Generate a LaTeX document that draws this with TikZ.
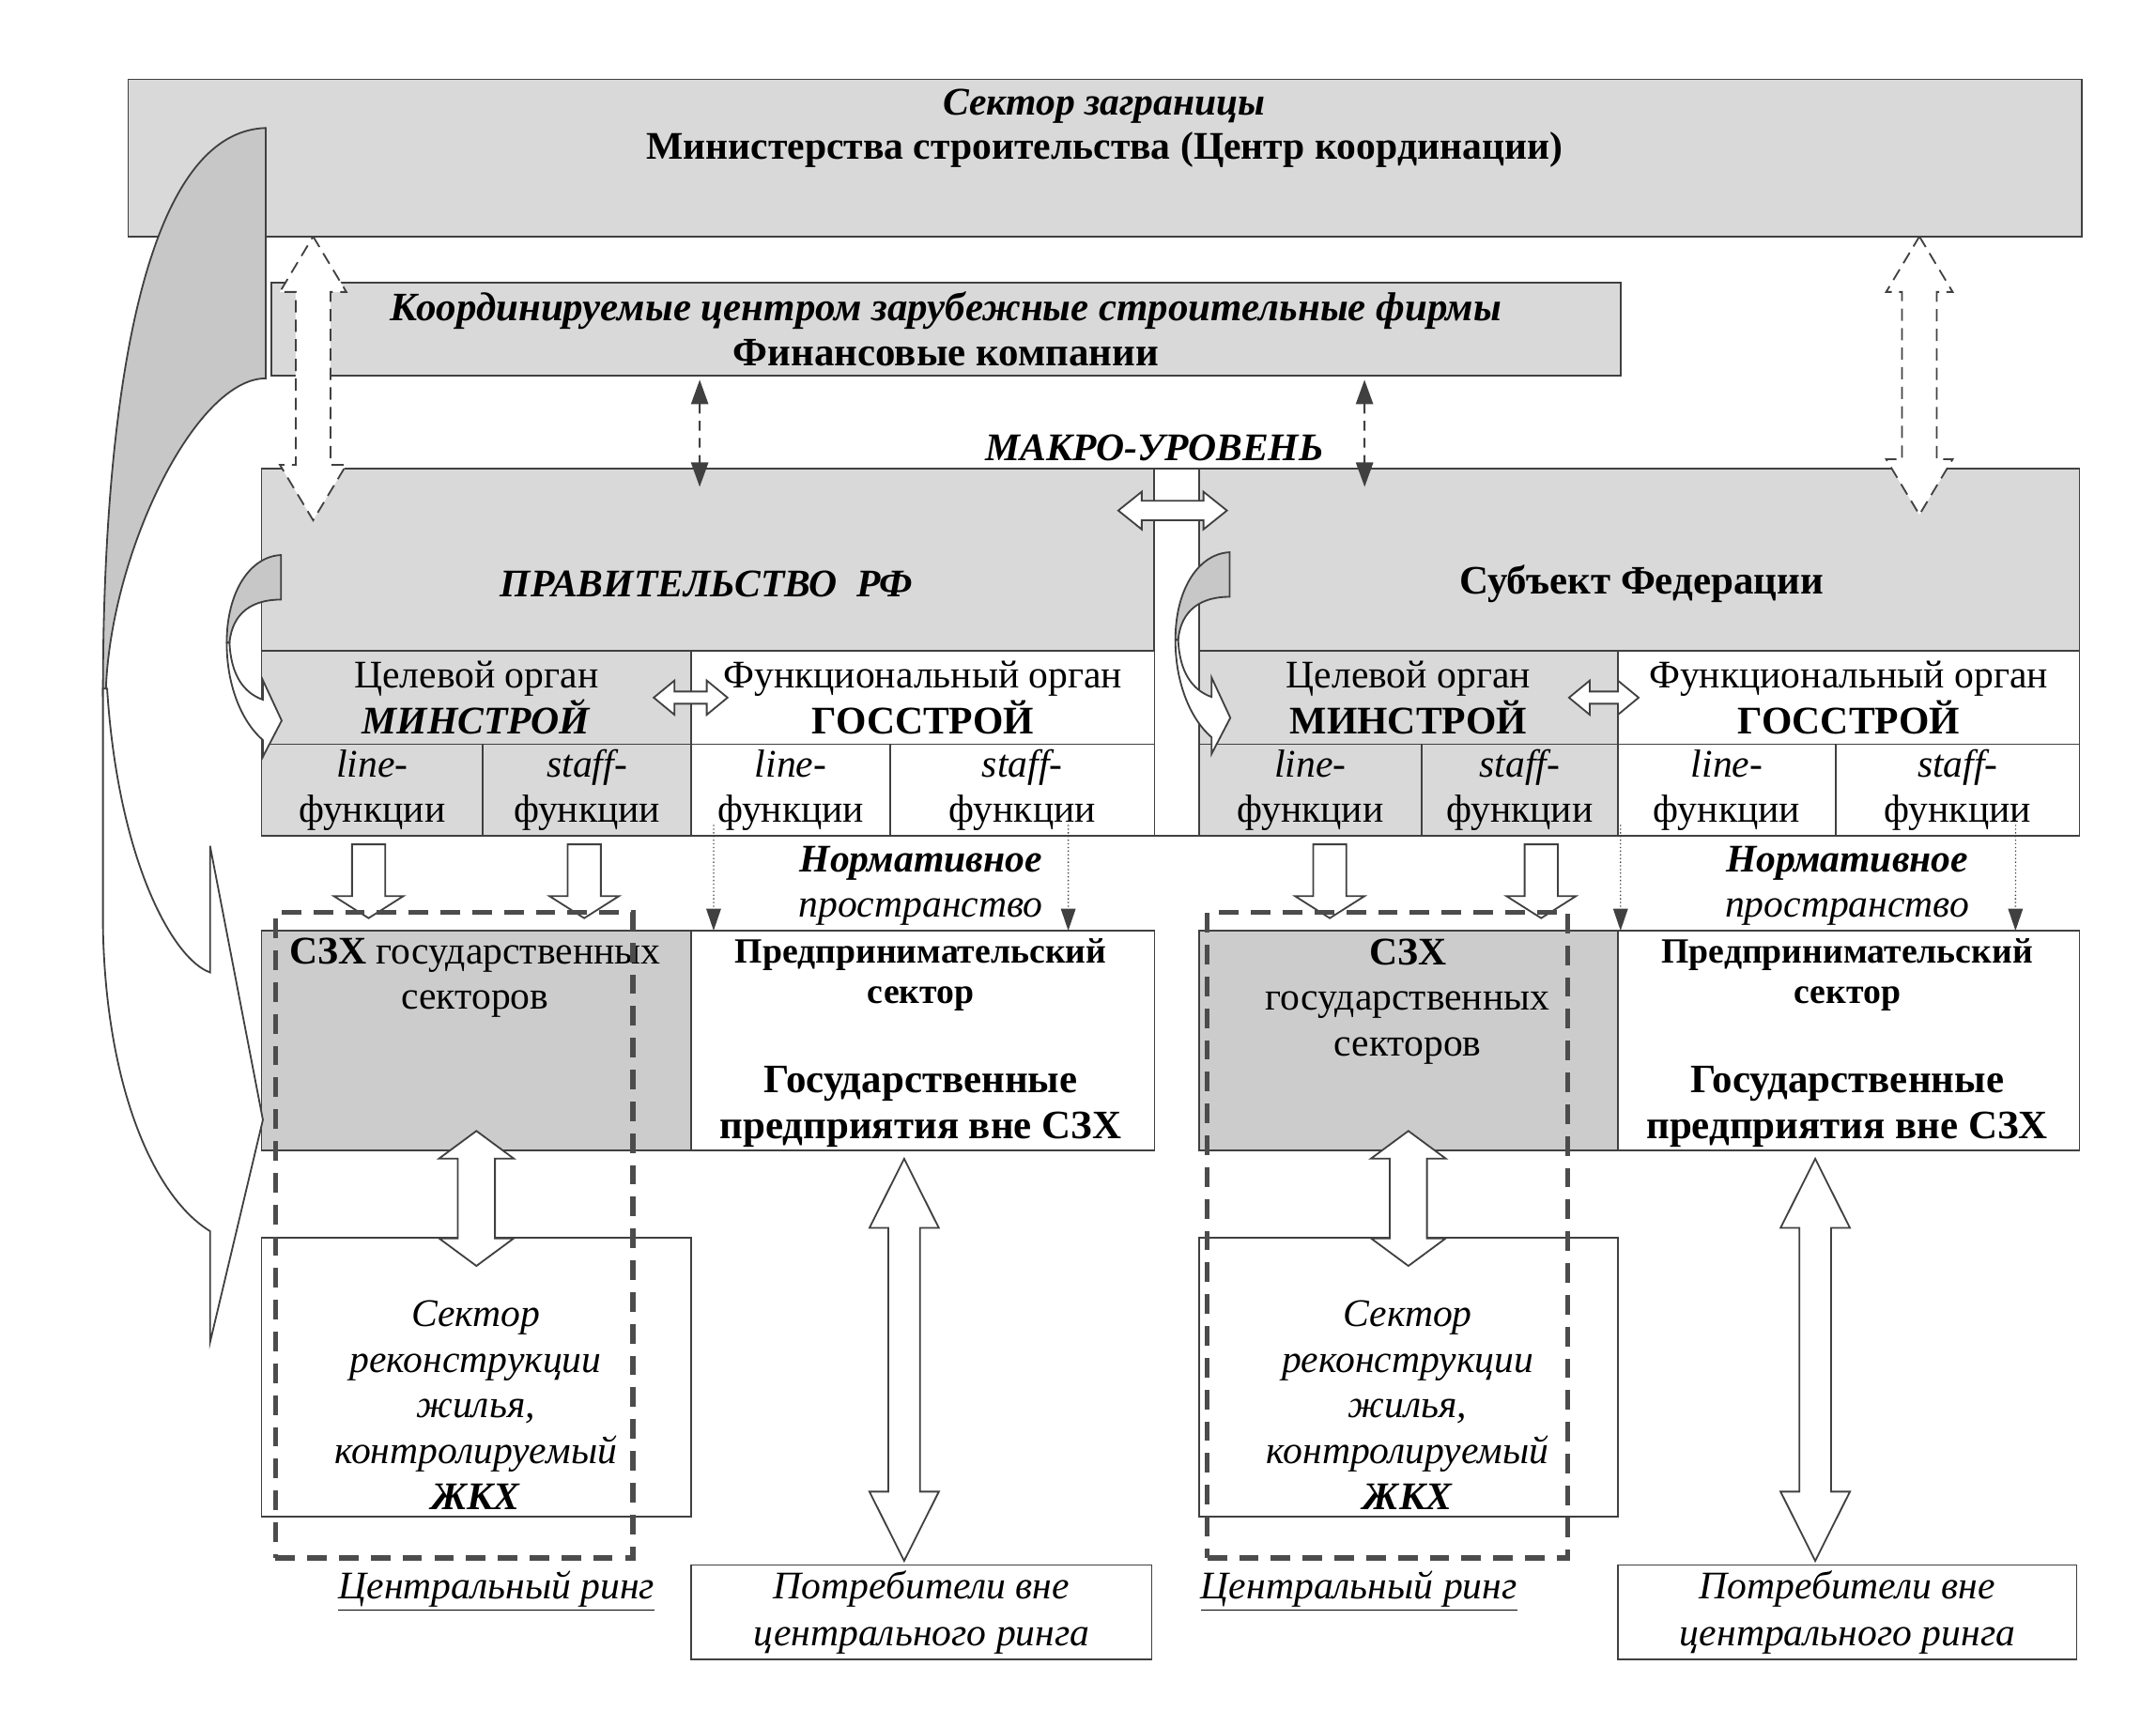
\documentclass[tikz,border=0pt]{standalone}
\usepackage{fontspec}
\setmainfont{Liberation Serif}
\usetikzlibrary{calc,arrows.meta}

\definecolor{boxgray}{gray}{0.85}
\definecolor{szxgray}{gray}{0.8}
\definecolor{arrgray}{gray}{0.78}
\definecolor{linegray}{gray}{0.25}
\definecolor{ringgray}{gray}{0.3}

\begin{document}
\begin{tikzpicture}[x=0.02cm,y=-0.02cm,
  box/.style={draw=linegray,line width=0.7pt,inner sep=0pt,outer sep=0pt,align=center,font=\fontsize{16}{18.5}\selectfont},
  graybox/.style={box,fill=boxgray},
  whitebox/.style={box,fill=white},
  txt/.style={inner sep=0pt,align=center,font=\fontsize{16}{18.5}\selectfont},
  ring/.style={draw=ringgray,line width=2pt,dash pattern=on 8pt off 5pt,inner sep=0pt},
  hollow/.style={draw=linegray,line width=0.7pt,fill=white},
  dhollow/.style={hollow,dash pattern=on 5pt off 3pt},
  thindash/.style={draw=linegray,line width=0.8pt,dash pattern=on 4pt off 3pt,
    {Triangle[length=10pt,width=7pt]}-{Triangle[length=10pt,width=7pt]}},
  dotarrow/.style={draw=linegray,line width=0.5pt,densely dotted,-{Triangle[length=9pt,width=6pt]}},
  vdbl/.style n args={3}{to path={let \p1=(\tikztostart),\p2=(\tikztotarget) in
    (\x1,\y1) -- (\x1+#2,\y1-#3) -- (\x1+#1,\y1-#3) -- (\x1+#1,\y2+#3) -- (\x1+#2,\y2+#3) -- (\x1,\y2)
    -- (\x1-#2,\y2+#3) -- (\x1-#1,\y2+#3) -- (\x1-#1,\y1-#3) -- (\x1-#2,\y1-#3) -- cycle}},
  vsgl/.style n args={3}{to path={let \p1=(\tikztostart),\p2=(\tikztotarget) in
    (\x1-#1,\y1) -- (\x1+#1,\y1) -- (\x1+#1,\y2+#3) -- (\x1+#2,\y2+#3) -- (\x1,\y2)
    -- (\x1-#2,\y2+#3) -- (\x1-#1,\y2+#3) -- cycle}},
  hdbl/.style n args={3}{to path={let \p1=(\tikztostart),\p2=(\tikztotarget) in
    (\x1,\y1) -- (\x1+#3,\y1+#2) -- (\x1+#3,\y1+#1) -- (\x2-#3,\y1+#1) -- (\x2-#3,\y1+#2) -- (\x2,\y1)
    -- (\x2-#3,\y1-#2) -- (\x2-#3,\y1-#1) -- (\x1+#3,\y1-#1) -- (\x1+#3,\y1-#2) -- cycle}}]

  \useasboundingbox (0,0) rectangle (1550,1241);

  % macro level
  \node[graybox,minimum width=28.1cm,minimum height=2.26cm] (abroad) at (794.5,113.5) {};
  \node[txt,font=\fontsize{16}{18}\selectfont\bfseries] (abroadtxt) at (794,92)
    {\textit{Сектор заграницы}\\Министерства строительства (Центр координации)};
  \node[graybox,minimum width=19.4cm,minimum height=1.34cm,font=\fontsize{16.5}{18.7}\selectfont\bfseries] (firms) at (680,236.5)
    {\textit{Координируемые центром зарубежные строительные фирмы}\\Финансовые компании};
  \node[txt,font=\fontsize{16}{18}\selectfont\bfseries\itshape] (macro) at (830,322) {МАКРО-УРОВЕНЬ};

  % government
  \node[graybox,minimum width=12.84cm,minimum height=2.62cm] (govt) at (509,402.5) {};
  \node[graybox,minimum width=6.18cm,minimum height=1.34cm] (gt) at (342.5,501.5) {Целевой орган\\\textbf{\textit{МИНСТРОЙ}}};
  \node[whitebox,minimum width=6.66cm,minimum height=1.34cm] (gf) at (663.5,501.5) {Функциональный орган\\\textbf{ГОССТРОЙ}};
  \node[graybox,minimum width=3.18cm,minimum height=1.32cm] (gl1) at (267.5,568) {\textit{line-}\\функции};
  \node[graybox,minimum width=3cm,minimum height=1.32cm] (gs1) at (422,568) {\textit{staff-}\\функции};
  \node[whitebox,minimum width=2.86cm,minimum height=1.32cm] (gl2) at (568.5,568) {\textit{line-}\\функции};
  \node[whitebox,minimum width=3.8cm,minimum height=1.32cm] (gs2) at (735,568) {\textit{staff-}\\функции};
  \node[txt,font=\fontsize{16}{18}\selectfont\bfseries\itshape] (govtname) at (508,420) {ПРАВИТЕЛЬСТВО~~РФ};

  % federation subject
  \node[graybox,minimum width=12.66cm,minimum height=2.62cm] (subj) at (1178.5,402.5) {};
  \node[graybox,minimum width=6.02cm,minimum height=1.34cm] (st) at (1012.5,501.5) {Целевой орган\\\textbf{МИНСТРОЙ}};
  \node[whitebox,minimum width=6.64cm,minimum height=1.34cm] (sf) at (1329,501.5) {Функциональный орган\\\textbf{ГОССТРОЙ}};
  \node[graybox,minimum width=3.2cm,minimum height=1.32cm] (sl1) at (942,568) {\textit{line-}\\функции};
  \node[graybox,minimum width=2.82cm,minimum height=1.32cm] (ss1) at (1092.5,568) {\textit{staff-}\\функции};
  \node[whitebox,minimum width=3.14cm,minimum height=1.32cm] (sl2) at (1241.5,568) {\textit{line-}\\функции};
  \node[whitebox,minimum width=3.5cm,minimum height=1.32cm] (ss2) at (1407.5,568) {\textit{staff-}\\функции};
  \node[txt,font=\fontsize{16.5}{18}\selectfont\bfseries] (subjname) at (1180,420) {Субъект Федерации};
  \node[whitebox,minimum width=0.64cm,minimum height=5.28cm] (gap) at (846,469) {};

  % sectors
  \node[box,fill=szxgray,minimum width=6.18cm,minimum height=3.16cm] (lszx) at (342.5,748) {};
  \node[whitebox,minimum width=6.66cm,minimum height=3.16cm] (lent) at (663.5,748) {};
  \node[box,fill=szxgray,minimum width=6.02cm,minimum height=3.16cm] (rszx) at (1012.5,748) {};
  \node[whitebox,minimum width=6.64cm,minimum height=3.16cm] (rent) at (1329,748) {};
  \node[txt] (lszxtxt) at (341.5,703) {\textbf{СЗХ} государственных\\секторов};
  \node[txt] (rszxtxt) at (1012,720) {\textbf{СЗХ}\\государственных\\секторов};
  \foreach \n/\x in {l/662,r/1328} {
    \node[txt,font=\fontsize{14.5}{16.5}\selectfont\bfseries] (\n enttop) at (\x,701) {Предпринимательский\\сектор};
    \node[txt,font=\fontsize{16.5}{18.7}\selectfont\bfseries] (\n entbot) at (\x,795.5) {Государственные\\предприятия вне СЗХ};
    \node[txt] (\n norm) at (\x,637) {\textbf{\textit{Нормативное}}\\\textit{пространство}};
  }

  \node[whitebox,minimum width=6.18cm,minimum height=4cm] (lrec) at (342.5,990) {};
  \node[whitebox,minimum width=6.02cm,minimum height=4cm] (rrec) at (1012.5,990) {};
  \node[whitebox,minimum width=6.62cm,minimum height=1.36cm,font=\fontsize{16}{19}\selectfont\itshape] (lcons) at (662.5,1159)
    {Потребители вне\\центрального ринга};
  \node[whitebox,minimum width=6.6cm,minimum height=1.36cm,font=\fontsize{16}{19}\selectfont\itshape] (rcons) at (1328,1159)
    {Потребители вне\\центрального ринга};
  \foreach \n/\x in {l/342,r/1012}
    \node[txt,font=\fontsize{16}{18.7}\selectfont\itshape] (\n rectxt) at (\x,1010)
      {Сектор\\реконструкции\\жилья,\\контролируемый\\\textbf{ЖКХ}};
  \node[txt,font=\fontsize{16}{18}\selectfont\itshape] (lringtxt) at (357,1144) {\underline{Центральный ринг}};
  \node[txt,font=\fontsize{16}{18}\selectfont\itshape] (rringtxt) at (977,1144) {\underline{Центральный ринг}};

  % big curved arrow
  \filldraw[fill=arrgray,draw=linegray,line width=0.7pt] (191,92) .. controls (100,95) and (74,300) .. (74,500)
    -- (76,500) .. controls (78,400) and (140,272) .. (191,272) -- cycle;
  \filldraw[fill=white,draw=linegray,line width=0.7pt] (74,495) -- (74,666) .. controls (76,780) and (110,860) .. (151,885)
    -- (151,965) -- (189,805) -- (151,608) -- (151,699) .. controls (125,690) and (85,620) .. (77,495) -- cycle;

  % small curved arrows
  \foreach \ox/\oy in {202/399,884/397} {
    \begin{scope}[shift={(\ox,\oy)}]
      \filldraw[fill=arrgray,draw=linegray,line width=0.7pt] (0,0) .. controls (-22,1) and (-39,26) .. (-39,63)
        -- (-37,63) .. controls (-35,41) and (-20,32) .. (0,32) -- cycle;
      \filldraw[fill=white,draw=linegray,line width=0.7pt] (-39,63) .. controls (-39,96) and (-27,121) .. (-13,133)
        -- (-13,145) -- (0.5,119) -- (-13,90) -- (-13,104) .. controls (-27,99) and (-36,86) .. (-37,63) -- cycle;
    \end{scope}
  }

  % connector ends
  \coordinate (a1) at ([xshift=-11.39cm]abroad.south);
  \coordinate (a2) at ([xshift=-5.68cm,yshift=-0.74cm]govt.north);
  \coordinate (b1) at ([xshift=11.71cm]abroad.south);
  \coordinate (b2) at ([xshift=4.03cm,yshift=-0.66cm]subj.north);
  \coordinate (c1) at ([xshift=-3.54cm,yshift=-0.06cm]firms.south);
  \coordinate (c2) at ([xshift=-0.12cm,yshift=-0.26cm]govt.north);
  \coordinate (d1) at ([xshift=6.02cm,yshift=-0.06cm]firms.south);
  \coordinate (d2) at ([xshift=-3.95cm,yshift=-0.26cm]subj.north);
  \coordinate (e1) at ([xshift=-0.52cm,yshift=-0.6cm]govt.north east);
  \coordinate (e2) at ([xshift=0.4cm,yshift=-0.6cm]subj.north west);
  \coordinate (f1) at ([xshift=-0.54cm]gt.east);
  \coordinate (f2) at ([xshift=0.52cm]gf.west);
  \coordinate (f3) at ([xshift=-0.7cm]st.east);
  \coordinate (f4) at ([xshift=0.3cm]sf.west);

  \draw[dhollow,vdbl={7.1pt}{13.6pt}{22.7pt}] (a1) to (a2);
  \draw[dhollow,vdbl={7.1pt}{13.6pt}{22.7pt}] (b1) to (b2);
  \draw[thindash] (c1) -- (c2);
  \draw[thindash] (d1) -- (d2);
  \draw[hollow,hdbl={4pt}{7.7pt}{9.6pt}] (e1) to (e2);
  \draw[hollow,hdbl={2.5pt}{7pt}{8.5pt}] (f1) to (f2);
  \draw[hollow,hdbl={2.5pt}{7pt}{8.5pt}] (f3) to (f4);

  % down to the sectors
  \coordinate (g1) at ([xshift=-0.05cm,yshift=-0.12cm]gl1.south);
  \coordinate (g2) at ([xshift=-1.55cm,yshift=0.18cm]lszx.north);
  \coordinate (g3) at ([xshift=-0.04cm,yshift=-0.12cm]gs1.south);
  \coordinate (g4) at ([xshift=1.55cm,yshift=0.18cm]lszx.north);
  \coordinate (g5) at ([xshift=0.28cm,yshift=-0.12cm]sl1.south);
  \coordinate (g6) at ([xshift=-1.13cm,yshift=0.18cm]rszx.north);
  \coordinate (g7) at ([xshift=0.31cm,yshift=-0.12cm]ss1.south);
  \coordinate (g8) at ([xshift=1.91cm,yshift=0.18cm]rszx.north);
  \foreach \s/\t in {g1/g2,g3/g4,g5/g6,g7/g8}
    \draw[hollow,vsgl={6.8pt}{14.2pt}{9pt}] (\s) to (\t);

  \coordinate (j1) at ([xshift=-1.11cm,yshift=0.16cm]gl2.south);
  \coordinate (j2) at ([xshift=-3.01cm]lent.north);
  \coordinate (j3) at ([xshift=0.66cm,yshift=0.16cm]gs2.south);
  \coordinate (j4) at ([xshift=2.09cm]lent.north);
  \coordinate (j5) at ([xshift=-1.53cm,yshift=0.16cm]sl2.south);
  \coordinate (j6) at ([xshift=-3.28cm]rent.north);
  \coordinate (j7) at ([xshift=0.83cm,yshift=0.16cm]ss2.south);
  \coordinate (j8) at ([xshift=2.4cm]rent.north);
  \foreach \s/\t in {j1/j2,j3/j4,j5/j6,j7/j8}
    \draw[dotarrow] (\s) -- (\t);

  \coordinate (h1) at ([yshift=0.28cm]lszx.south);
  \coordinate (h2) at ([yshift=-0.4cm]lrec.north);
  \coordinate (h3) at ([yshift=0.28cm]rszx.south);
  \coordinate (h4) at ([yshift=-0.4cm]rrec.north);
  \draw[hollow,vdbl={7.6pt}{15.3pt}{11.3pt}] (h1) to (h2);
  \draw[hollow,vdbl={7.6pt}{15.3pt}{11.3pt}] (h3) to (h4);

  \coordinate (i1) at ([xshift=-0.27cm,yshift=-0.12cm]lent.south);
  \coordinate (i2) at ([xshift=-0.25cm,yshift=0.06cm]lcons.north);
  \coordinate (i3) at ([xshift=-0.48cm,yshift=-0.12cm]rent.south);
  \coordinate (i4) at ([xshift=-0.46cm,yshift=0.06cm]rcons.north);
  \draw[hollow,vdbl={6.5pt}{14.2pt}{28.3pt}] (i1) to (i2);
  \draw[hollow,vdbl={6.5pt}{14.2pt}{28.3pt}] (i3) to (i4);

  % central rings
  \node[ring,minimum width=5.14cm,minimum height=9.28cm] (lring) at (326.5,888) {};
  \node[ring,minimum width=5.18cm,minimum height=9.28cm] (rring) at (997.5,888) {};
\end{tikzpicture}
\end{document}
